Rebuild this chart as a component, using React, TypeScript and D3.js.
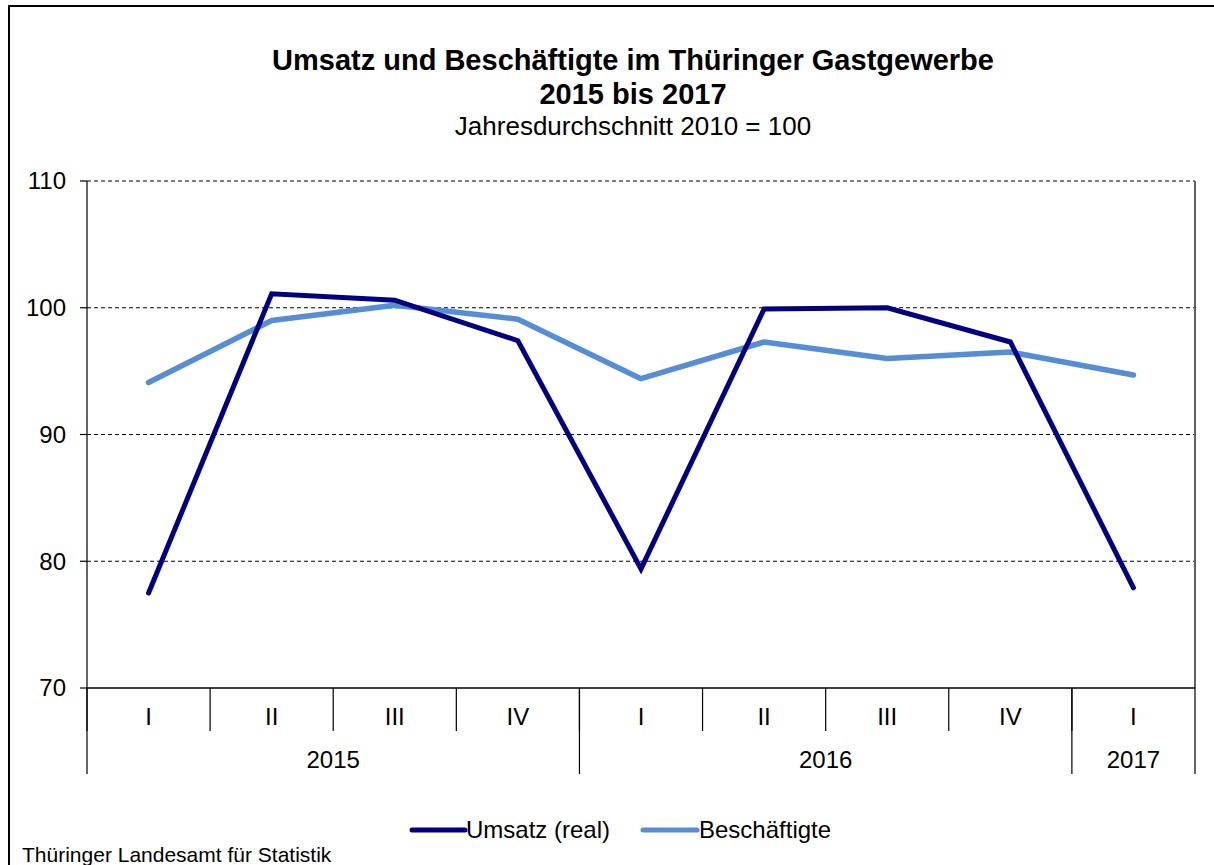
import React from "react";
import * as d3 from "d3";

const quarters = ["I", "II", "III", "IV", "I", "II", "III", "IV", "I"];
const years = [
  { label: "2015", start: 0, end: 4 },
  { label: "2016", start: 4, end: 8 },
  { label: "2017", start: 8, end: 9 },
];
const umsatz = [77.5, 101.1, 100.6, 97.4, 79.4, 99.9, 100.0, 97.3, 77.9];
const beschaeftigte = [94.1, 99.0, 100.2, 99.1, 94.4, 97.3, 96.0, 96.5, 94.7];
const yTicks = [70, 80, 90, 100, 110];

const W = 1214;
const H = 865;
const left = 87;
const right = 1195;
const top = 181;
const bottom = 688;
const FONT = "'Liberation Sans', Arial, sans-serif";
const C_UMSATZ = "#000080";
const C_BESCH = "#558ED5";

export default function App() {
  const idx = quarters.map((_, i) => i);
  const x = d3.scaleBand<number>().domain(idx).range([left, right]).padding(0);
  const y = d3.scaleLinear().domain([70, 110]).range([bottom, top]);
  const cx = (i: number) => (x(i) as number) + x.bandwidth() / 2;
  const line = d3
    .line<number>()
    .x((_, i) => cx(i))
    .y((d) => y(d));
  const edge = (i: number) => (i < quarters.length ? (x(i) as number) : right);

  return (
    <svg
      width={W}
      height={H}
      style={{ position: "absolute", left: 0, top: 0, background: "#fff" }}
      fontFamily={FONT}
    >
      <rect x={0} y={0} width={W} height={H} fill="#fff" />
      <rect x={9} y={6} width={W + 20} height={H + 20} fill="none" stroke="#000" strokeWidth={2} />

      <text x={633} y={70} textAnchor="middle" fontSize={29} fontWeight="bold">
        Umsatz und Beschäftigte im Thüringer Gastgewerbe
      </text>
      <text x={633} y={104} textAnchor="middle" fontSize={29} fontWeight="bold">
        2015 bis 2017
      </text>
      <text x={633} y={135} textAnchor="middle" fontSize={26}>
        Jahresdurchschnitt 2010 = 100
      </text>

      {/* gridlines */}
      {yTicks
        .filter((t) => t > 70)
        .map((t) => (
          <line
            key={"g" + t}
            x1={left}
            x2={right}
            y1={y(t)}
            y2={y(t)}
            stroke="#000"
            strokeWidth={1}
            strokeDasharray="4,3"
          />
        ))}
      <line x1={right} x2={right} y1={top} y2={bottom} stroke="#606060" strokeWidth={2} />

      {/* y axis */}
      <line x1={left} x2={left} y1={top} y2={bottom} stroke="#000" strokeWidth={1.2} />
      {yTicks.map((t) => (
        <g key={"t" + t}>
          <line x1={left - 7} x2={left} y1={y(t)} y2={y(t)} stroke="#000" strokeWidth={1.2} />
          <text x={66} y={y(t)} dy="0.35em" textAnchor="end" fontSize={24}>
            {t}
          </text>
        </g>
      ))}

      {/* x axis */}
      <line x1={left} x2={right} y1={bottom} y2={bottom} stroke="#000" strokeWidth={1.5} />
      {idx.map((i) => (
        <line
          key={"q" + i}
          x1={edge(i)}
          x2={edge(i)}
          y1={bottom}
          y2={731}
          stroke="#000"
          strokeWidth={1.2}
        />
      ))}
      {years.map((yr) => (
        <line
          key={"ys" + yr.label}
          x1={edge(yr.start)}
          x2={edge(yr.start)}
          y1={bottom}
          y2={774}
          stroke="#000"
          strokeWidth={1.2}
        />
      ))}
      <line x1={right} x2={right} y1={bottom} y2={774} stroke="#000" strokeWidth={1.2} />
      {quarters.map((q, i) => (
        <text key={"ql" + i} x={cx(i)} y={717} dy="0.35em" textAnchor="middle" fontSize={24}>
          {q}
        </text>
      ))}
      {years.map((yr) => (
        <text
          key={"yl" + yr.label}
          x={(edge(yr.start) + edge(yr.end)) / 2}
          y={760}
          dy="0.35em"
          textAnchor="middle"
          fontSize={24}
        >
          {yr.label}
        </text>
      ))}

      {/* series */}
      <path d={line(beschaeftigte) || ""} fill="none" stroke={C_BESCH} strokeWidth={5.5} strokeLinejoin="round" strokeLinecap="round" />
      <path d={line(umsatz) || ""} fill="none" stroke={C_UMSATZ} strokeWidth={5} strokeLinejoin="miter" strokeLinecap="round" />

      {/* legend */}
      <line x1={412} x2={465} y1={830} y2={830} stroke={C_UMSATZ} strokeWidth={5} strokeLinecap="round" />
      <text x={466} y={830} dy="0.35em" fontSize={24}>
        Umsatz (real)
      </text>
      <line x1={643} x2={697} y1={830} y2={830} stroke={C_BESCH} strokeWidth={5} strokeLinecap="round" />
      <text x={699} y={830} dy="0.35em" fontSize={24}>
        Beschäftigte
      </text>

      <text x={22} y={855} dy="0.35em" fontSize={21}>
        Thüringer Landesamt für Statistik
      </text>
    </svg>
  );
}
